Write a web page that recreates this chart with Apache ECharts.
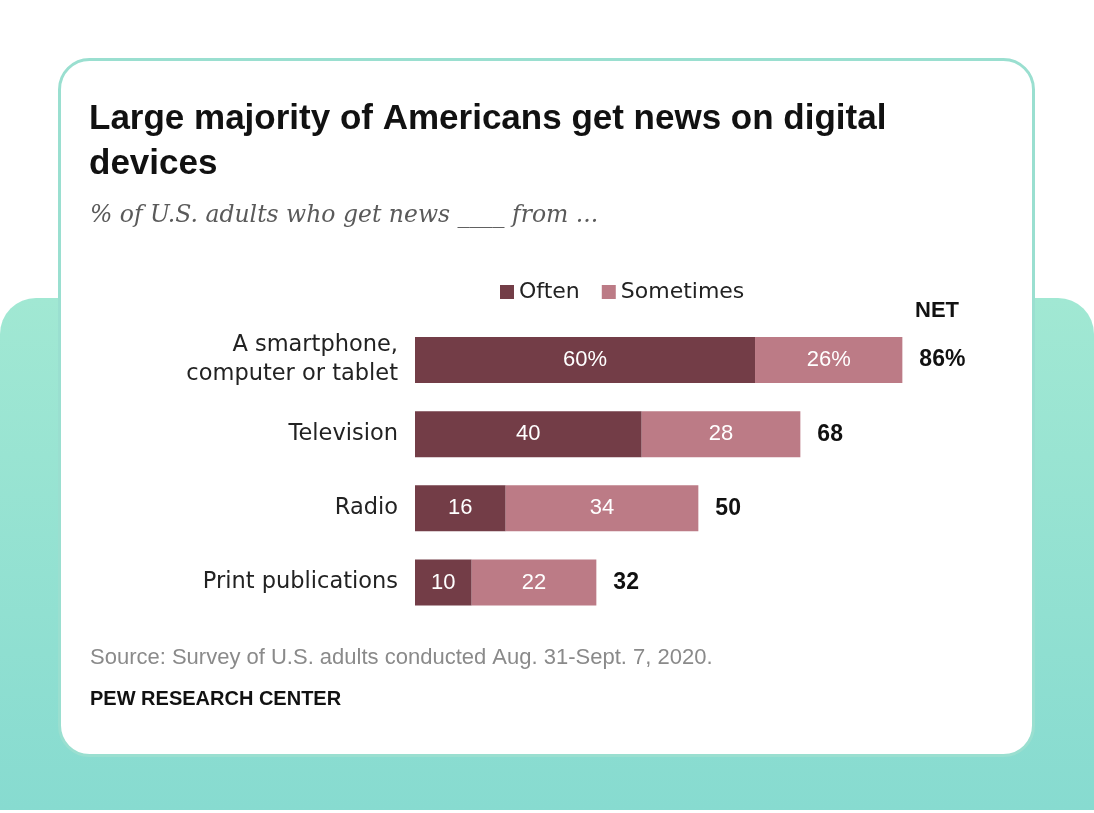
<!DOCTYPE html>
<html><head><meta charset="utf-8">
<script src="https://cdn.jsdelivr.net/npm/echarts@6/dist/echarts.min.js"></script>
<style>html,body{margin:0;padding:0;background:#fff}#c{width:1094px;height:813px}</style>
</head><body><div id="c"></div>
<script>
const categories = ['A smartphone,\ncomputer or tablet', 'Television', 'Radio', 'Print publications'];
const often = [60, 40, 16, 10];
const sometimes = [26, 28, 34, 22];
const net = [86, 68, 50, 32];

const SANS = '"DejaVu Sans", "Liberation Sans", Arial, sans-serif';
const chart = echarts.init(document.getElementById('c'));
const fmt = p => p.dataIndex === 0 ? p.value + '%' : String(p.value);
chart.setOption({
  animation: false,
  graphic: [
    { type: 'rect', z: -10, shape: { x: 0, y: 298, width: 1094, height: 512, r: [36, 36, 0, 0] },
      style: { fill: new echarts.graphic.LinearGradient(0, 0, 0, 1, [{ offset: 0, color: '#a1e8d3' }, { offset: 1, color: '#87dbd0' }]) } },
    { type: 'rect', z: -9, shape: { x: 59.5, y: 59.5, width: 974, height: 696, r: 30 },
      style: { fill: '#ffffff', stroke: '#9adfd0', lineWidth: 3 } },
    { type: 'text', left: 89, top: 97, style: { text: 'Large majority of Americans get news on digital\ndevices', font: 'bold 35px "Liberation Sans", Arial, sans-serif', fill: '#111', lineHeight: 45 } },
    { type: 'text', left: 90, top: 204, style: { text: '% of U.S. adults who get news ____ from ...', font: 'italic 23.5px "DejaVu Serif", Georgia, serif', fill: '#5a5a5a' } },
    { type: 'text', left: 915, top: 300, style: { text: 'NET', font: 'bold 22px "Liberation Sans", Arial, sans-serif', fill: '#111' } },
    { type: 'text', left: 90, top: 647, style: { text: 'Source: Survey of U.S. adults conducted Aug. 31-Sept. 7, 2020.', font: '22px "Liberation Sans", Arial, sans-serif', fill: '#8a8a8a' } },
    { type: 'text', left: 90, top: 689, style: { text: 'PEW RESEARCH CENTER', font: 'bold 20px "Liberation Sans", Arial, sans-serif', fill: '#111' } }
  ],
  legend: {
    data: ['Often', 'Sometimes'], left: 495, top: 276, itemWidth: 14, itemHeight: 14, itemGap: 22,
    icon: 'rect', textStyle: { fontSize: 22, color: '#222', fontFamily: SANS }
  },
  grid: { left: 415, right: 112.3, top: 323, bottom: 193.5, containLabel: false },
  xAxis: { type: 'value', min: 0, max: 100, show: false },
  yAxis: {
    type: 'category', data: categories, inverse: true,
    axisLine: { show: false }, axisTick: { show: false },
    axisLabel: { margin: 17, fontSize: 22.5, lineHeight: 29, color: '#222', align: 'right', padding: [6, 0, 0, 0], fontFamily: SANS }
  },
  series: [
    { name: 'Often', type: 'bar', stack: 'a', data: often, barWidth: 46, itemStyle: { color: '#733d47' },
      label: { show: true, position: 'inside', color: '#fff', fontSize: 22, formatter: fmt, fontFamily: '"Liberation Sans", Arial, sans-serif' } },
    { name: 'Sometimes', type: 'bar', stack: 'a', data: sometimes, barWidth: 46, itemStyle: { color: '#bc7b86' },
      label: { show: true, position: 'inside', color: '#fff', fontSize: 22, formatter: fmt, fontFamily: '"Liberation Sans", Arial, sans-serif' } },
    { name: 'NET', type: 'bar', data: net, barWidth: 46, barGap: '-100%', itemStyle: { color: 'rgba(0,0,0,0)' }, silent: true,
      label: { show: true, position: 'right', distance: 17, color: '#111', fontSize: 23, fontWeight: 'bold', formatter: fmt, fontFamily: '"Liberation Sans", Arial, sans-serif' } }
  ]
});
</script></body></html>
